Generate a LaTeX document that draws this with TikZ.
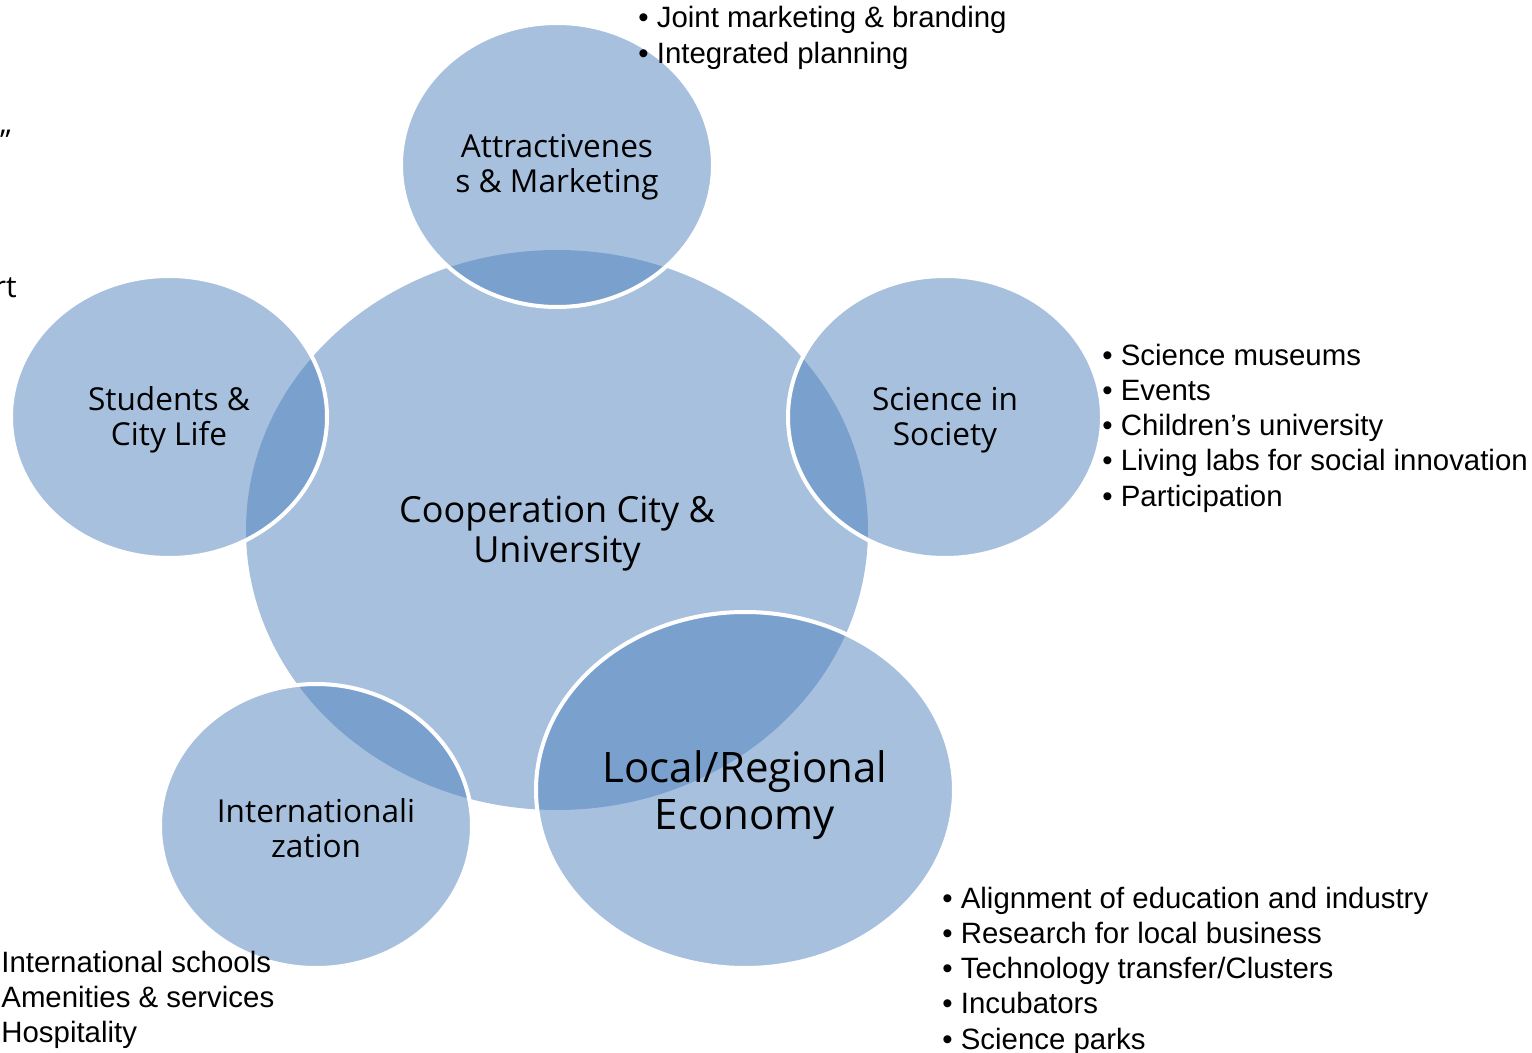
\documentclass[tikz,border=0pt]{standalone}
\usepackage{fontspec}
\setmainfont{Liberation Sans}
\newfontfamily\circfont{Open Sans}
\usetikzlibrary{shapes.geometric,positioning}
\definecolor{accblue}{HTML}{4F81BD}
\tikzset{
  hub/.style={ellipse,inner sep=0pt,fill=accblue,fill opacity=0.5},
  petal/.style={ellipse,inner sep=0pt,fill=accblue,fill opacity=0.5,
    draw=white,draw opacity=1,line width=2pt},
  tag/.style={align=center,inner sep=0pt,font=\circfont\fontsize{15.8}{17.5}\selectfont},
  bigtag/.style={align=center,inner sep=0pt,font=\circfont\fontsize{18}{20}\selectfont},
  bullets/.style={anchor=west,align=left,inner sep=0pt,font=\fontsize{14.7}{17.6}\selectfont},
}
\begin{document}
\begin{tikzpicture}[x=0.5pt,y=-0.5pt]
\useasboundingbox (0,0) rectangle (1532,1053);
\node[hub,minimum width=311pt,minimum height=280pt] (coop) at (557,530) {};
\node[petal,minimum width=156pt,minimum height=142pt] (attr) at (557,165) {};
\node[petal,minimum width=158pt,minimum height=141pt] (stud) at (169,417) {};
\node[petal,minimum width=157pt,minimum height=141pt] (sci) at (945,417) {};
\node[petal,minimum width=156pt,minimum height=142pt] (intl) at (316,826) {};
\node[petal,minimum width=209pt,minimum height=178pt] (econ) at (745,790) {};
% circle texts
\node[bigtag,yshift=-2pt] (cooptxt) at (coop) {Cooperation City \&\\University};
\node[tag,yshift=-1pt] (attrtxt) at (attr) {Attractivenes\\s \& Marketing};
\node[tag,yshift=-1.25pt] (studtxt) at (stud) {Students \&\\City Life};
\node[tag,yshift=-1.75pt] (scitxt) at (sci) {Science in\\Society};
\node[tag,yshift=-1pt] (intltxt) at (intl) {Internationali\\zation};
\node[tag,yshift=-2.75pt,font=\circfont\fontsize{21}{23.5}\selectfont] (econtxt) at (econ) {Local/Regional\\Economy};
% lists
\node[bullets] (attrlist) at (638,38) {\textbullet\ Joint marketing \& branding\\\textbullet\ Integrated planning};
\node[bullets] (scilist) at (1102,428) {\textbullet\ Science museums\\\textbullet\ Events\\\textbullet\ Children’s university\\\textbullet\ Living labs for social innovation\\\textbullet\ Participation};
\node[bullets] (econlist) at (942,971) {\textbullet\ Alignment of education and industry\\\textbullet\ Research for local business\\\textbullet\ Technology transfer/Clusters\\\textbullet\ Incubators\\\textbullet\ Science parks};
\node[bullets] (intllist) at (1,1000) {International schools\\Amenities \& services\\Hospitality};
% cut-off fragments
\node[anchor=east,inner sep=0pt,font=\circfont\fontsize{15}{17.5}\selectfont] (frag1) at (11,141) {”};
\node[anchor=east,inner sep=0pt,font=\circfont\fontsize{15}{17.5}\selectfont] (frag2) at (17,288) {rt};
\end{tikzpicture}
\end{document}
